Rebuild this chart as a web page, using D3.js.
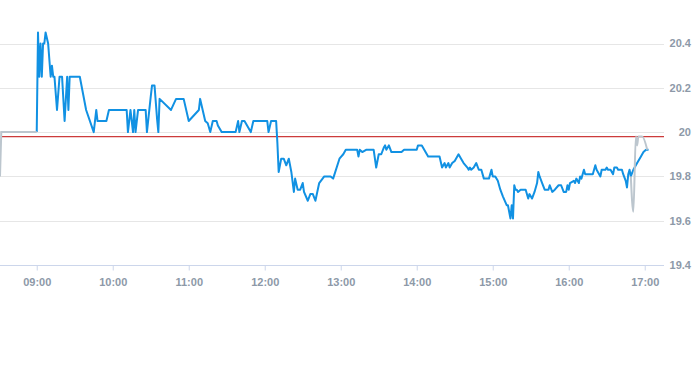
<!DOCTYPE html>
<html>
<head>
<meta charset="utf-8">
<script src="https://cdn.jsdelivr.net/npm/d3@7/dist/d3.min.js"></script>
<style>
  html, body { margin: 0; padding: 0; background: #fff; }
  svg { display: block; font-family: "Liberation Sans", Arial, sans-serif; }
  .grid line { stroke: #e6e6e6; stroke-width: 1; }
  .axis-label { fill: #8d99a8; font-size: 11px; font-weight: bold; }
</style>
</head>
<body>
<svg id="chart" width="693" height="365"></svg>
<script>
// intraday price, blue series
var times = ["09:00","09:01","09:02","09:03","09:04","09:05","09:06","09:07","09:09","09:11",
  "09:12","09:13","09:14","09:16","09:18","09:20","09:22","09:24","09:25","09:26",
  "09:34","09:39","09:45","09:47","09:48","09:55","09:57","10:11","10:12","10:14",
  "10:16","10:17","10:18","10:20","10:26","10:27","10:30","10:31","10:33","10:35",
  "10:36","10:37","10:46","10:50","10:56","11:00","11:08","11:09","11:11","11:13",
  "11:15","11:17","11:19","11:22","11:23","11:26","11:37","11:39","11:40","11:42",
  "11:44","11:49","11:51","12:02","12:03","12:05","12:09","12:10","12:11","12:13",
  "12:15","12:17","12:19","12:21","12:23","12:24","12:26","12:28","12:30","12:31",
  "12:34","12:36","12:38","12:40","12:43","12:47","12:52","12:54","12:59","13:02",
  "13:03","13:04","13:13","13:14","13:15","13:17","13:20","13:26","13:28","13:30",
  "13:32","13:34","13:35","13:36","13:38","13:40","13:48","13:50","14:00","14:01",
  "14:04","14:09","14:18","14:20","14:22","14:23","14:25","14:26","14:28","14:30",
  "14:33","14:35","14:37","14:40","14:41","14:42","14:43","14:45","14:47","14:49",
  "14:51","14:53","14:57","14:59","15:00","15:02","15:04","15:06","15:08","15:11",
  "15:12","15:14","15:15","15:16","15:17","15:18","15:19","15:20","15:22","15:26",
  "15:28","15:29","15:31","15:33","15:35","15:36","15:37","15:39","15:41","15:44",
  "15:45","15:47","15:49","15:52","15:54","15:56","15:58","15:59","16:00","16:01",
  "16:04","16:05","16:06","16:08","16:09","16:10","16:12","16:13","16:19","16:21",
  "16:22","16:25","16:26","16:29","16:30","16:31","16:33","16:35","16:36","16:38",
  "16:39","16:42","16:43","16:45","16:46","16:47","16:48","16:49","16:51","16:54",
  "16:57","16:59","17:01","17:03"];
var prices = [20.00,20.45,20.25,20.40,20.25,20.40,20.40,20.45,20.40,20.25,
  20.30,20.25,20.25,20.10,20.25,20.25,20.05,20.25,20.10,20.25,
  20.25,20.10,20.00,20.10,20.05,20.05,20.10,20.10,20.00,20.10,
  20.00,20.10,20.00,20.10,20.10,20.00,20.16,20.21,20.21,20.06,
  20.00,20.15,20.10,20.15,20.15,20.05,20.10,20.15,20.10,20.05,
  20.04,20.00,20.05,20.05,20.03,20.00,20.00,20.05,20.00,20.05,
  20.05,20.00,20.05,20.05,20.00,20.05,20.05,19.95,19.82,19.88,
  19.88,19.85,19.88,19.82,19.73,19.79,19.74,19.74,19.77,19.73,
  19.69,19.72,19.72,19.69,19.77,19.80,19.80,19.79,19.88,19.90,
  19.91,19.92,19.92,19.89,19.92,19.91,19.92,19.92,19.84,19.90,
  19.90,19.93,19.94,19.92,19.94,19.91,19.91,19.92,19.92,19.94,
  19.94,19.89,19.89,19.84,19.86,19.84,19.86,19.84,19.86,19.87,
  19.90,19.88,19.86,19.84,19.83,19.84,19.83,19.84,19.86,19.83,
  19.83,19.79,19.79,19.83,19.80,19.80,19.78,19.74,19.71,19.67,
  19.67,19.61,19.67,19.61,19.76,19.74,19.74,19.73,19.74,19.74,
  19.70,19.72,19.70,19.73,19.77,19.82,19.80,19.77,19.74,19.74,
  19.76,19.73,19.74,19.76,19.76,19.73,19.73,19.76,19.74,19.77,
  19.78,19.77,19.79,19.77,19.80,19.79,19.83,19.81,19.81,19.85,
  19.83,19.80,19.83,19.83,19.84,19.83,19.83,19.81,19.84,19.84,
  19.83,19.83,19.81,19.78,19.75,19.81,19.83,19.80,19.83,19.86,
  19.89,19.91,19.92,19.92];

// grey series: pre-open and closing auction
var auctionTimes = ["08:31","08:32","09:00","16:49","16:51","16:53","16:54","16:55","16:58","17:02"];
var auctionPrices = [19.80,20.00,20.00,19.80,19.64,19.98,19.94,19.98,19.98,19.92];

var prevClose = 19.98;
var yTicks = [19.4, 19.6, 19.8, 20, 20.2, 20.4];
var xTicks = ["09:00","10:00","11:00","12:00","13:00","14:00","15:00","16:00","17:00"];

(function (d3) {
  'use strict';

  var svg = d3.select("#chart");
  var plotRight = 665;
  var plotBottom = 265;

  var parse = d3.timeParse("%H:%M");
  var fmt = d3.timeFormat("%H:%M");

  var x = d3.scaleTime()
    .domain([parse("08:31"), parse("17:16")])
    .range([0, plotRight]);

  var y = d3.scaleLinear()
    .domain([19.4, 20.4])
    .range([plotBottom, 43.5]);

  var mainData = times.map(function (t, i) { return {t: parse(t), v: prices[i]}; });
  var auctionData = auctionTimes.map(function (t, i) { return {t: parse(t), v: auctionPrices[i]}; });

  // horizontal grid
  svg.append("g")
    .attr("class", "grid")
    .selectAll("line")
    .data(yTicks.slice(1))
    .enter().append("line")
    .attr("x1", 0)
    .attr("x2", plotRight - 1)
    .attr("y1", function (d) { return Math.round(y(d)) + 0.5; })
    .attr("y2", function (d) { return Math.round(y(d)) + 0.5; });

  // bottom axis
  var xAxis = d3.axisBottom(x)
    .tickValues(xTicks.map(parse))
    .tickFormat(fmt)
    .tickSize(5)
    .tickPadding(8);

  var gx = svg.append("g")
    .attr("transform", "translate(0," + (plotBottom + 0.5) + ")")
    .call(xAxis);
  gx.select(".domain").attr("stroke", "#ccd6eb").attr("d", "M0,0H" + (plotRight - 1));
  gx.selectAll(".tick line").attr("stroke", "#ccd6eb");
  gx.selectAll(".tick text")
    .attr("class", "axis-label")
    .attr("fill", null)
    .attr("font-family", null)
    .attr("font-size", null);

  // right-side value labels
  svg.append("g")
    .selectAll("text")
    .data(yTicks)
    .enter().append("text")
    .attr("class", "axis-label")
    .attr("x", 691)
    .attr("y", function (d) { return y(d); })
    .attr("dy", "0.35em")
    .attr("text-anchor", "end")
    .text(function (d) { return d3.format("~g")(d); });

  // previous close
  svg.append("line")
    .attr("x1", 2)
    .attr("x2", plotRight - 1)
    .attr("y1", y(prevClose))
    .attr("y2", y(prevClose))
    .attr("stroke", "#cc3b3b")
    .attr("stroke-width", 1.2);

  var line = d3.line()
    .x(function (d) { return x(d.t); })
    .y(function (d) { return y(d.v); });

  svg.append("path")
    .datum(mainData)
    .attr("fill", "none")
    .attr("stroke", "#1191e3")
    .attr("stroke-width", 2)
    .attr("stroke-linejoin", "round")
    .attr("d", line);

  svg.append("path")
    .datum(auctionData.slice(0, 3))
    .attr("fill", "none")
    .attr("stroke", "#bcc6ce")
    .attr("stroke-width", 2)
    .attr("d", line);

  svg.append("path")
    .datum(auctionData.slice(3))
    .attr("fill", "none")
    .attr("stroke", "#bcc6ce")
    .attr("stroke-width", 2)
    .attr("d", line.curve(d3.curveMonotoneX));

})(window.d3);
</script>
</body>
</html>
